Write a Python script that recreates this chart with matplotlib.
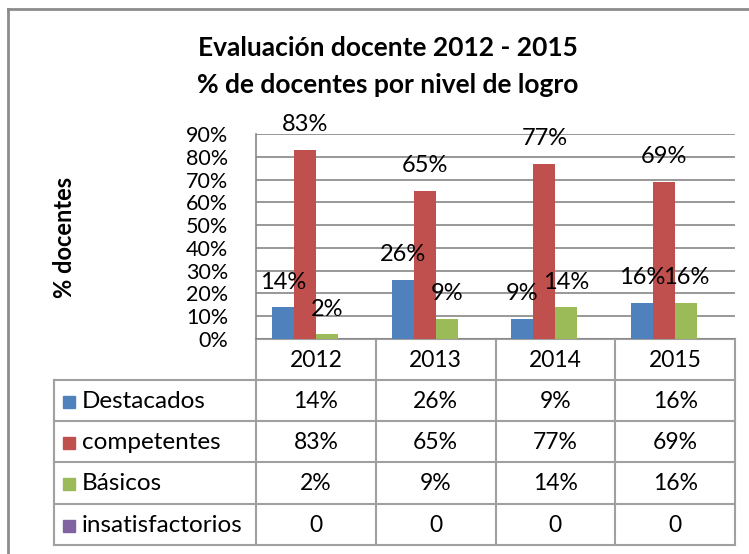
import matplotlib
matplotlib.use("Agg")
import matplotlib.pyplot as plt
from matplotlib.patches import Rectangle
import numpy as np

plt.rcParams['font.family'] = ['Lato', 'DejaVu Sans']

years = ["2012", "2013", "2014", "2015"]
series = ["Destacados", "competentes", "Básicos", "insatisfactorios"]
destacados = [14, 26, 9, 16]
competentes = [83, 65, 77, 69]
basicos = [2, 9, 14, 16]
insatisfactorios = [0, 0, 0, 0]
table_text = [
    ["14%", "26%", "9%", "16%"],
    ["83%", "65%", "77%", "69%"],
    ["2%", "9%", "14%", "16%"],
    ["0", "0", "0", "0"],
]
colors = ["#4F81BD", "#C0504D", "#9BBB59", "#8064A2"]
yticks = list(range(0, 91, 10))

W, H = 749, 554
fig = plt.figure(figsize=(W / 100, H / 100), dpi=100)

def fx(px):
    return px / W

def fy(py):
    return 1 - py / H

FS = 16.5

# main plot area
left, right, top, bottom = 256, 735, 134, 339
ax = fig.add_axes([fx(left), fy(bottom), fx(right - left), (bottom - top) / H])

values = [destacados, competentes, basicos, insatisfactorios]
n = len(series)
bw = 0.184
x = np.arange(len(years))
for i, (vals, c) in enumerate(zip(values, colors)):
    xpos = x + (i - (n - 1) / 2) * bw
    ax.bar(xpos, vals, width=bw, color=c, zorder=3)
    for xp, v in zip(xpos, vals):
        if v > 0:
            ax.annotate(f"{v}%", (xp, v), xytext=(0, 25), textcoords="offset pixels",
                        ha="center", va="center", fontsize=17, color="black", zorder=5)

ax.set_xlim(-0.5, len(years) - 0.5)
ax.set_ylim(0, 90)
ax.set_yticks(yticks)
ax.set_yticklabels([f"{t}%" for t in yticks], fontsize=15.5)
ax.tick_params(axis="y", length=0, pad=20)
ax.set_xticks([])
ax.grid(axis="y", color="#868686", linewidth=1.2, zorder=0)
for s in ["top", "right", "bottom"]:
    ax.spines[s].set_visible(False)
ax.spines["left"].set_color("#868686")
ax.spines["left"].set_linewidth(1.2)
ax.patch.set_alpha(0)

# overlay axes in pixel coordinates for table and frame
ov = fig.add_axes([0, 0, 1, 1], zorder=-1)
ov.set_xlim(0, W)
ov.set_ylim(H, 0)
ov.axis("off")

fig.canvas.draw()
def data_to_px(xd):
    disp = ax.transData.transform((xd, 0))
    return disp[0] * W / fig.bbox.width

bounds = [data_to_px(b) for b in np.arange(-0.5, len(years), 1.0)]
centers = [data_to_px(c) for c in x]

lc = "#A0A0A0"
lw = 1.5
row_y = [339, 380, 421, 462, 504, 545]
tab_left = 54

ov.plot([bounds[0], bounds[-1]], [row_y[0], row_y[0]], color=lc, lw=lw)
for b in bounds:
    ov.plot([b, b], [row_y[0], row_y[-1]], color=lc, lw=lw)
for yy in row_y[1:]:
    ov.plot([tab_left, bounds[-1]], [yy, yy], color=lc, lw=lw)
ov.plot([tab_left, tab_left], [row_y[1], row_y[-1]], color=lc, lw=lw)

for cx, yr in zip(centers, years):
    ov.text(cx, (row_y[0] + row_y[1]) / 2 + 1, yr, ha="center", va="center", fontsize=FS)

for r in range(len(series)):
    yc = (row_y[r + 1] + row_y[r + 2]) / 2 + 1
    ov.add_patch(Rectangle((63, yc - 6), 12, 12, color=colors[r]))
    ov.text(82, yc, series[r], ha="left", va="center", fontsize=17.5)
    for cx, t in zip(centers, table_text[r]):
        ov.text(cx, yc, t, ha="center", va="center", fontsize=FS)

# chart frame (top and left)
ov.plot([8, W], [9, 9], color="#8C8C8C", lw=2)
ov.plot([8, 8], [9, H], color="#8C8C8C", lw=2)

# titles
fig.text(fx(388), fy(48), "Evaluación docente 2012 - 2015", ha="center", va="center",
         fontsize=19, fontweight="bold")
fig.text(fx(388), fy(85), "% de docentes por nivel de logro", ha="center", va="center",
         fontsize=19, fontweight="bold")
fig.text(fx(65), fy(237), "% docentes", ha="center", va="center", rotation=90,
         fontsize=17, fontweight="bold")

fig.savefig("out.png", dpi=100)
